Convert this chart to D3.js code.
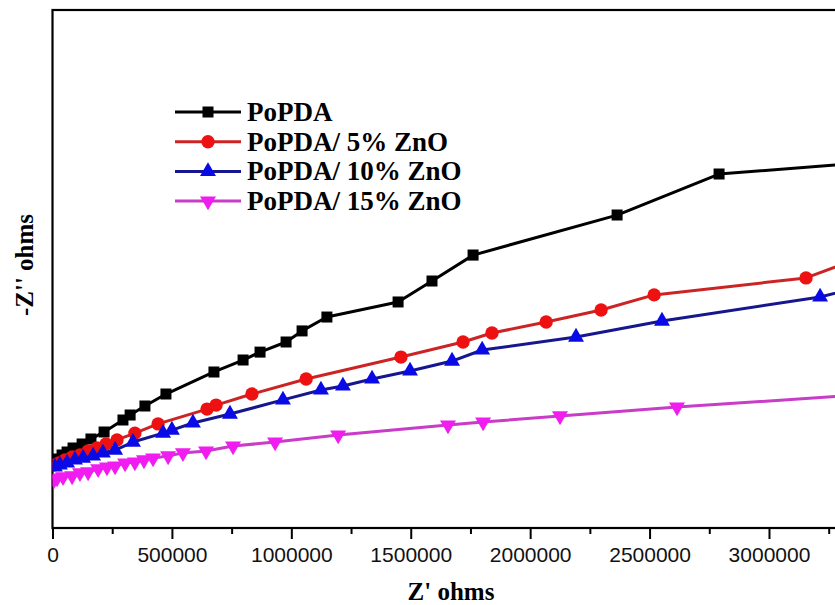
<!DOCTYPE html>
<html>
<head>
<meta charset="utf-8">
<script src="https://cdn.jsdelivr.net/npm/d3@7"></script>
<style>
  body { margin: 0; background: #fff; }
  .tick text { font-family: 'Liberation Sans', Arial, sans-serif; }
</style>
</head>
<body>
<div class="container"></div>
<script>
// Z' (ohms) and -Z'' (ohms)
const popdaX = [2000, 19000, 40000, 61000, 86000, 124000, 161000, 216000, 295000, 325000, 387000, 475000,
  676000, 798000, 869000, 978000, 1045000, 1149000, 1447000, 1589000, 1761000, 2364000, 2791000, 3381000];
const popdaY = [280000, 293000, 310000, 323000, 340000, 357000, 378000, 408000, 459000, 480000, 518000, 569000,
  663000, 713000, 747000, 790000, 837000, 896000, 960000, 1049000, 1159000, 1329000, 1503000, 1550000];

const zn5X = [10000, 27000, 52000, 82000, 115000, 149000, 186000, 224000, 270000, 345000, 442000, 647000,
  685000, 835000, 1062000, 1459000, 1719000, 1840000, 2067000, 2297000, 2519000, 3155000, 3381000];
const zn5Y = [268000, 276000, 289000, 302000, 310000, 327000, 340000, 357000, 374000, 403000, 442000, 505000,
  522000, 569000, 633000, 726000, 790000, 828000, 875000, 926000, 990000, 1062000, 1147000];

const zn10X = [10000, 31000, 61000, 94000, 128000, 170000, 211000, 262000, 337000, 463000, 500000, 588000,
  743000, 965000, 1124000, 1216000, 1338000, 1497000, 1673000, 1799000, 2192000, 2552000, 3214000, 3381000];
const zn10Y = [259000, 268000, 276000, 289000, 297000, 306000, 319000, 331000, 365000, 403000, 416000, 446000,
  484000, 544000, 586000, 603000, 633000, 667000, 709000, 756000, 811000, 879000, 981000, 1024000];

const zn15X = [6000, 19000, 44000, 82000, 115000, 149000, 191000, 228000, 262000, 304000, 345000, 383000,
  421000, 484000, 546000, 643000, 756000, 932000, 1196000, 1656000, 1803000, 2125000, 2615000, 3381000];
const zn15Y = [204000, 212000, 217000, 221000, 234000, 238000, 251000, 259000, 263000, 276000, 280000, 289000,
  297000, 306000, 319000, 327000, 348000, 365000, 395000, 437000, 450000, 476000, 514000, 565000];

const seriesNames = ['PoPDA', 'PoPDA/ 5% ZnO', 'PoPDA/ 10% ZnO', 'PoPDA/ 15% ZnO'];
const xTicks = [0, 500000, 1000000, 1500000, 2000000, 2500000, 3000000];
const xMinorTicks = [250000, 750000, 1250000, 1750000, 2250000, 2750000, 3250000];

let series = [
  { name: seriesNames[0], xs: popdaX, ys: popdaY, line: '#000000', fill: '#000000', shape: 'square' },
  { name: seriesNames[1], xs: zn5X, ys: zn5Y, line: '#cc2424', fill: '#ee1111', shape: 'circle' },
  { name: seriesNames[2], xs: zn10X, ys: zn10Y, line: '#16168e', fill: '#0a0ae6', shape: 'up' },
  { name: seriesNames[3], xs: zn15X, ys: zn15Y, line: '#c83cc8', fill: '#f01cf0', shape: 'down' }
];

let W = 835, H = 605;
let plotLeft = 52.5, plotTop = 10, plotBottom = 528;
let plotRight = plotLeft + 835.9;

let svg = d3.select('.container').append('svg')
  .attr('width', W).attr('height', H);

let x = d3.scaleLinear().domain([0, 3500000]).range([plotLeft, plotRight]);
let y = d3.scaleLinear().domain([0, 2200000]).range([plotBottom, plotTop]);

svg.append('clipPath').attr('id', 'plot')
  .append('rect').attr('x', plotLeft).attr('y', plotTop)
  .attr('width', plotRight - plotLeft).attr('height', plotBottom - plotTop);

// minor ticks
svg.append('g')
  .attr('transform', 'translate(0,' + plotBottom + ')')
  .call(d3.axisBottom(x).tickValues(xMinorTicks).tickSize(6).tickFormat(''))
  .call(g => g.select('.domain').remove())
  .selectAll('line').attr('stroke-width', 2);

// major ticks
let xAxis = svg.append('g')
  .attr('id', 'x-axis')
  .attr('transform', 'translate(0,' + plotBottom + ')')
  .call(d3.axisBottom(x).tickValues(xTicks).tickSize(11).tickPadding(8).tickFormat(d3.format('d')));
xAxis.select('.domain').remove();
xAxis.selectAll('line').attr('stroke-width', 2);
xAxis.selectAll('text').style('font-size', '21px').attr('fill', '#111');

// frame
svg.append('rect')
  .attr('x', plotLeft).attr('y', plotTop)
  .attr('width', plotRight - plotLeft).attr('height', plotBottom - plotTop)
  .attr('fill', 'none').attr('stroke', '#000').attr('stroke-width', 2.2);

let symbol = function (shape) {
  if (shape === 'square') return d3.symbol().type(d3.symbolSquare).size(121)();
  if (shape === 'circle') return d3.symbol().type(d3.symbolCircle).size(140)();
  return d3.symbol().type(d3.symbolTriangle).size(110)();
};

let plot = svg.append('g').attr('clip-path', 'url(#plot)');
let line = d3.line().x(d => x(d[0])).y(d => y(d[1]));

series.forEach(s => {
  let pts = s.xs.map((v, i) => [v, s.ys[i]]);
  let g = plot.append('g');
  g.append('path')
    .datum(pts)
    .attr('d', line)
    .attr('fill', 'none')
    .attr('stroke', s.line)
    .attr('stroke-width', 3)
    .attr('stroke-linejoin', 'round');
  g.selectAll('path.pt')
    .data(pts)
    .enter()
    .append('path')
    .attr('class', 'pt')
    .attr('d', symbol(s.shape))
    .attr('transform', d => 'translate(' + x(d[0]) + ',' + y(d[1]) + ')' + (s.shape === 'down' ? ' rotate(180)' : ''))
    .attr('fill', s.fill);
});

// legend
let legend = svg.append('g').attr('id', 'legend');
series.forEach((s, i) => {
  let ly = 112 + i * 29.7;
  legend.append('line')
    .attr('x1', 175).attr('x2', 241).attr('y1', ly).attr('y2', ly)
    .attr('stroke', s.line).attr('stroke-width', 3);
  legend.append('path')
    .attr('d', symbol(s.shape))
    .attr('transform', 'translate(208,' + ly + ')' + (s.shape === 'down' ? ' rotate(180)' : ''))
    .attr('fill', s.fill);
  legend.append('text')
    .attr('x', 247).attr('y', ly + 9)
    .style('font-family', "'Liberation Serif', 'Times New Roman', serif")
    .style('font-weight', 'bold')
    .style('font-size', '27px')
    .text(s.name);
});

// axis titles
svg.append('text')
  .attr('x', 451).attr('y', 600)
  .attr('text-anchor', 'middle')
  .style('font-family', "'Liberation Serif', 'Times New Roman', serif")
  .style('font-weight', 'bold')
  .style('font-size', '25px')
  .text("Z' ohms");

svg.append('text')
  .attr('transform', 'translate(33,265) rotate(-90)')
  .attr('text-anchor', 'middle')
  .style('font-family', "'Liberation Serif', 'Times New Roman', serif")
  .style('font-weight', 'bold')
  .style('font-size', '25px')
  .text("-Z'' ohms");
</script>
</body>
</html>
